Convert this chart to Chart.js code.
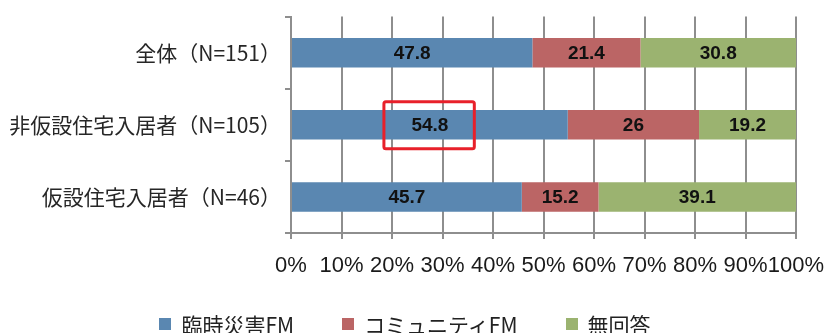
<!DOCTYPE html>
<html lang="ja">
<head>
<meta charset="utf-8">
<script src="https://cdn.jsdelivr.net/npm/chart.js@4.4.1/dist/chart.umd.min.js"></script>
<style>
  html, body { margin: 0; padding: 0; background: #fff; }
  .wrap { position: relative; width: 828px; height: 333px; }
  #legend {
    position: absolute; left: 0; width: 810px; top: 313px;
    display: flex; justify-content: center;
    font-family: 'Noto Sans CJK JP', sans-serif; font-size: 21px; line-height: 22px; color: #222;
  }
  #legend .item { display: flex; align-items: center; margin: 0 24px; }
  #legend .swatch { width: 12px; height: 12px; margin-right: 10px; }
</style>
</head>
<body>
<div class="wrap">
  <canvas id="chart" width="828" height="333"></canvas>
  <div id="legend"></div>
</div>
<script>
  // 聴取したラジオ局（割合 %）
  const categories = ['全体（N=151）', '非仮設住宅入居者（N=105）', '仮設住宅入居者（N=46）'];
  const seriesNames = ['臨時災害FM', 'コミュニティFM', '無回答'];
  const rinjiFM = [47.8, 54.8, 45.7];
  const communityFM = [21.4, 26, 15.2];
  const noAnswer = [30.8, 19.2, 39.1];
  const xTicks = [0, 10, 20, 30, 40, 50, 60, 70, 80, 90, 100];
  const colors = ['#5a87b1', '#bb6565', '#9bb370'];

  // 強調枠（非仮設住宅入居者の臨時災害FM）
  const highlight = { row: 1, from: 18.4, to: 36.3 };

  const GRID = '#8e8e8e';

  const valueLabels = {
    id: 'valueLabels',
    afterDatasetsDraw(chart) {
      const ctx = chart.ctx;
      ctx.save();
      ctx.font = 'bold 19px "Liberation Sans", Arial, sans-serif';
      ctx.fillStyle = '#111';
      ctx.textAlign = 'center';
      ctx.textBaseline = 'middle';
      chart.data.datasets.forEach((ds, i) => {
        chart.getDatasetMeta(i).data.forEach((bar, j) => {
          ctx.fillText(String(ds.data[j]), (bar.x + bar.base) / 2, bar.y + 1);
        });
      });
      ctx.restore();
    }
  };

  const highlightBox = {
    id: 'highlightBox',
    afterDatasetsDraw(chart) {
      const { ctx, scales: { x, y } } = chart;
      const x0 = x.getPixelForValue(highlight.from);
      const x1 = x.getPixelForValue(highlight.to);
      const yc = y.getPixelForValue(highlight.row);
      ctx.save();
      ctx.strokeStyle = '#e8202a';
      ctx.lineWidth = 3;
      ctx.beginPath();
      ctx.roundRect(x0, yc - 23, x1 - x0, 47, 2);
      ctx.stroke();
      ctx.restore();
    }
  };

  const datasets = [rinjiFM, communityFM, noAnswer].map((data, i) => ({
    label: seriesNames[i],
    data,
    backgroundColor: colors[i],
    borderWidth: 0,
    barPercentage: 0.41,
    categoryPercentage: 1
  }));

  new Chart(document.getElementById('chart'), {
    type: 'bar',
    data: { labels: categories, datasets },
    options: {
      indexAxis: 'y',
      responsive: false,
      animation: false,
      layout: { padding: { top: 11, right: 32, left: 0, bottom: 0 } },
      plugins: { legend: { display: false }, tooltip: { enabled: false } },
      scales: {
        x: {
          stacked: true,
          min: 0, max: 100,
          afterBuildTicks: s => { s.ticks = xTicks.map(v => ({ value: v })); },
          afterFit: s => { s.height = 100; s.paddingLeft = 0; s.paddingRight = 0; },
          grid: { color: GRID, lineWidth: 2, tickLength: 6 },
          border: { color: GRID, width: 2 },
          ticks: {
            callback: v => v + '%',
            color: '#1a1a1a',
            padding: 14,
            maxRotation: 0,
            autoSkip: false,
            font: { family: '"Liberation Sans", Arial, sans-serif', size: 22 }
          }
        },
        y: {
          stacked: true,
          afterFit: s => { s.width = 291; },
          grid: { drawOnChartArea: false, color: GRID, lineWidth: 2, tickLength: 6, offset: true },
          border: { color: GRID, width: 2 },
          ticks: {
            color: '#262626',
            padding: 4,
            font: { family: '"Noto Sans CJK JP", sans-serif', size: 21 }
          }
        }
      }
    },
    plugins: [valueLabels, highlightBox]
  });

  // 凡例
  document.getElementById('legend').innerHTML = seriesNames.map((name, i) =>
    `<span class="item"><span class="swatch" style="background:${colors[i]}"></span>${name}</span>`
  ).join('');
</script>
</body>
</html>
